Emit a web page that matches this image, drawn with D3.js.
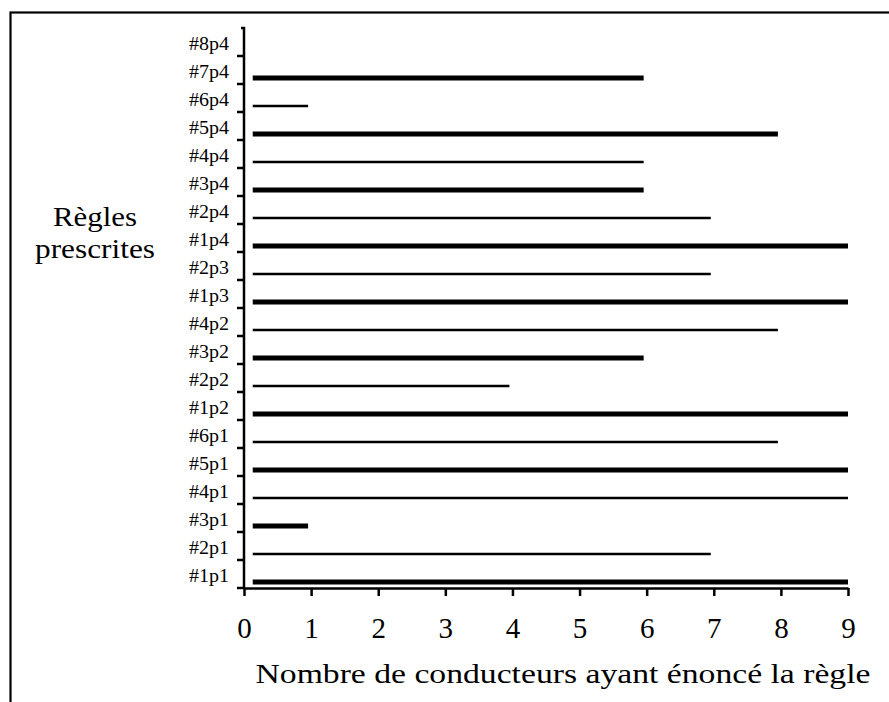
<!DOCTYPE html>
<html>
<head>
<meta charset="utf-8">
<script src="https://cdn.jsdelivr.net/npm/d3@7"></script>
<style>
  html, body { margin: 0; padding: 0; background: #fff; }
  svg { display: block; }
  svg text { font-family: "Liberation Serif", "Times New Roman", Times, "DejaVu Serif", serif; fill: #000; }
</style>
</head>
<body>
<div id="chart"></div>
<script>
// rules, bottom to top
const rules = ["#1p1", "#2p1", "#3p1", "#4p1", "#5p1", "#6p1",
               "#1p2", "#2p2", "#3p2", "#4p2",
               "#1p3", "#2p3",
               "#1p4", "#2p4", "#3p4", "#4p4", "#5p4", "#6p4", "#7p4", "#8p4"];
// number of drivers who stated the rule
const counts = [9, 7, 1, 9, 9, 8,
                9, 4, 6, 8,
                9, 7,
                9, 7, 6, 6, 8, 1, 6, 0];
// heavy (1) or light (0) bar
const heavy = [1, 0, 1, 0, 1, 0,
               1, 0, 1, 0,
               1, 0,
               1, 0, 1, 0, 1, 0, 1, 0];
const xTicks = [0, 1, 2, 3, 4, 5, 6, 7, 8, 9];
const xTitle = "Nombre de conducteurs ayant énoncé la règle";
const yTitle = ["Règles", "prescrites"];

const width = 889, height = 702;
const svg = d3.select("#chart").append("svg")
    .attr("width", width)
    .attr("height", height);

// frame
svg.append("rect")
    .attr("x", 10.5).attr("y", 12.5)
    .attr("width", 900).attr("height", 720)
    .attr("fill", "none").attr("stroke", "#000").attr("stroke-width", 2.2);

const x = d3.scaleLinear().domain([0, 9]).range([244, 848]);
const y = d3.scaleBand().domain(rules).range([588, 28]).paddingInner(0).paddingOuter(0);

const data = rules.map((r, i) => ({ rule: r, value: counts[i], heavy: heavy[i] }));

// bars
svg.append("g").selectAll("line")
  .data(data.filter(d => d.value > 0))
  .join("line")
    .attr("x1", x(0.13))
    .attr("x2", d => x(d.value) - (d.value < 9 ? 3 : 0))
    .attr("y1", d => y(d.rule) + y.bandwidth() - 6)
    .attr("y2", d => y(d.rule) + y.bandwidth() - 6)
    .attr("stroke", "#000")
    .attr("stroke-width", d => d.heavy ? 5 : 2.5);

// y axis
const yAxis = svg.append("g");
yAxis.append("path")
    .attr("d", "M241," + y.range()[1] + "H244V" + (y.range()[0] + 1))
    .attr("fill", "none").attr("stroke", "#000").attr("stroke-width", 2.5);
yAxis.selectAll("line")
  .data(rules)
  .join("line")
    .attr("x1", 237).attr("x2", 244)
    .attr("y1", d => y(d) + y.bandwidth())
    .attr("y2", d => y(d) + y.bandwidth())
    .attr("stroke", "#000").attr("stroke-width", 2.5);
yAxis.selectAll("text")
  .data(rules)
  .join("text")
    .attr("x", 229)
    .attr("y", d => y(d) + y.bandwidth() - 10)
    .attr("text-anchor", "end")
    .attr("dominant-baseline", "middle")
    .attr("font-size", 19)
    .attr("textLength", 40)
    .attr("lengthAdjust", "spacingAndGlyphs")
    .text(d => d);

// x axis
const xAxis = svg.append("g")
    .attr("transform", "translate(0,588)")
    .call(d3.axisBottom(x).tickValues(xTicks).tickSize(8).tickSizeOuter(0).tickPadding(21));
xAxis.select(".domain").attr("stroke-width", 2.5);
xAxis.selectAll(".tick line").attr("stroke-width", 2.5);
xAxis.selectAll(".tick text")
    .attr("font-size", 29);

// titles
svg.append("text")
    .attr("x", 563).attr("y", 683)
    .attr("text-anchor", "middle")
    .attr("font-size", 27)
    .attr("textLength", 615)
    .attr("lengthAdjust", "spacingAndGlyphs")
    .text(xTitle);

const yt = svg.append("g").attr("font-size", 28);
yt.append("text")
    .attr("x", 95).attr("y", 226)
    .attr("text-anchor", "middle")
    .attr("textLength", 84)
    .attr("lengthAdjust", "spacingAndGlyphs")
    .text(yTitle[0]);
yt.append("text")
    .attr("x", 95).attr("y", 258)
    .attr("text-anchor", "middle")
    .attr("textLength", 120)
    .attr("lengthAdjust", "spacingAndGlyphs")
    .text(yTitle[1]);
</script>
</body>
</html>
